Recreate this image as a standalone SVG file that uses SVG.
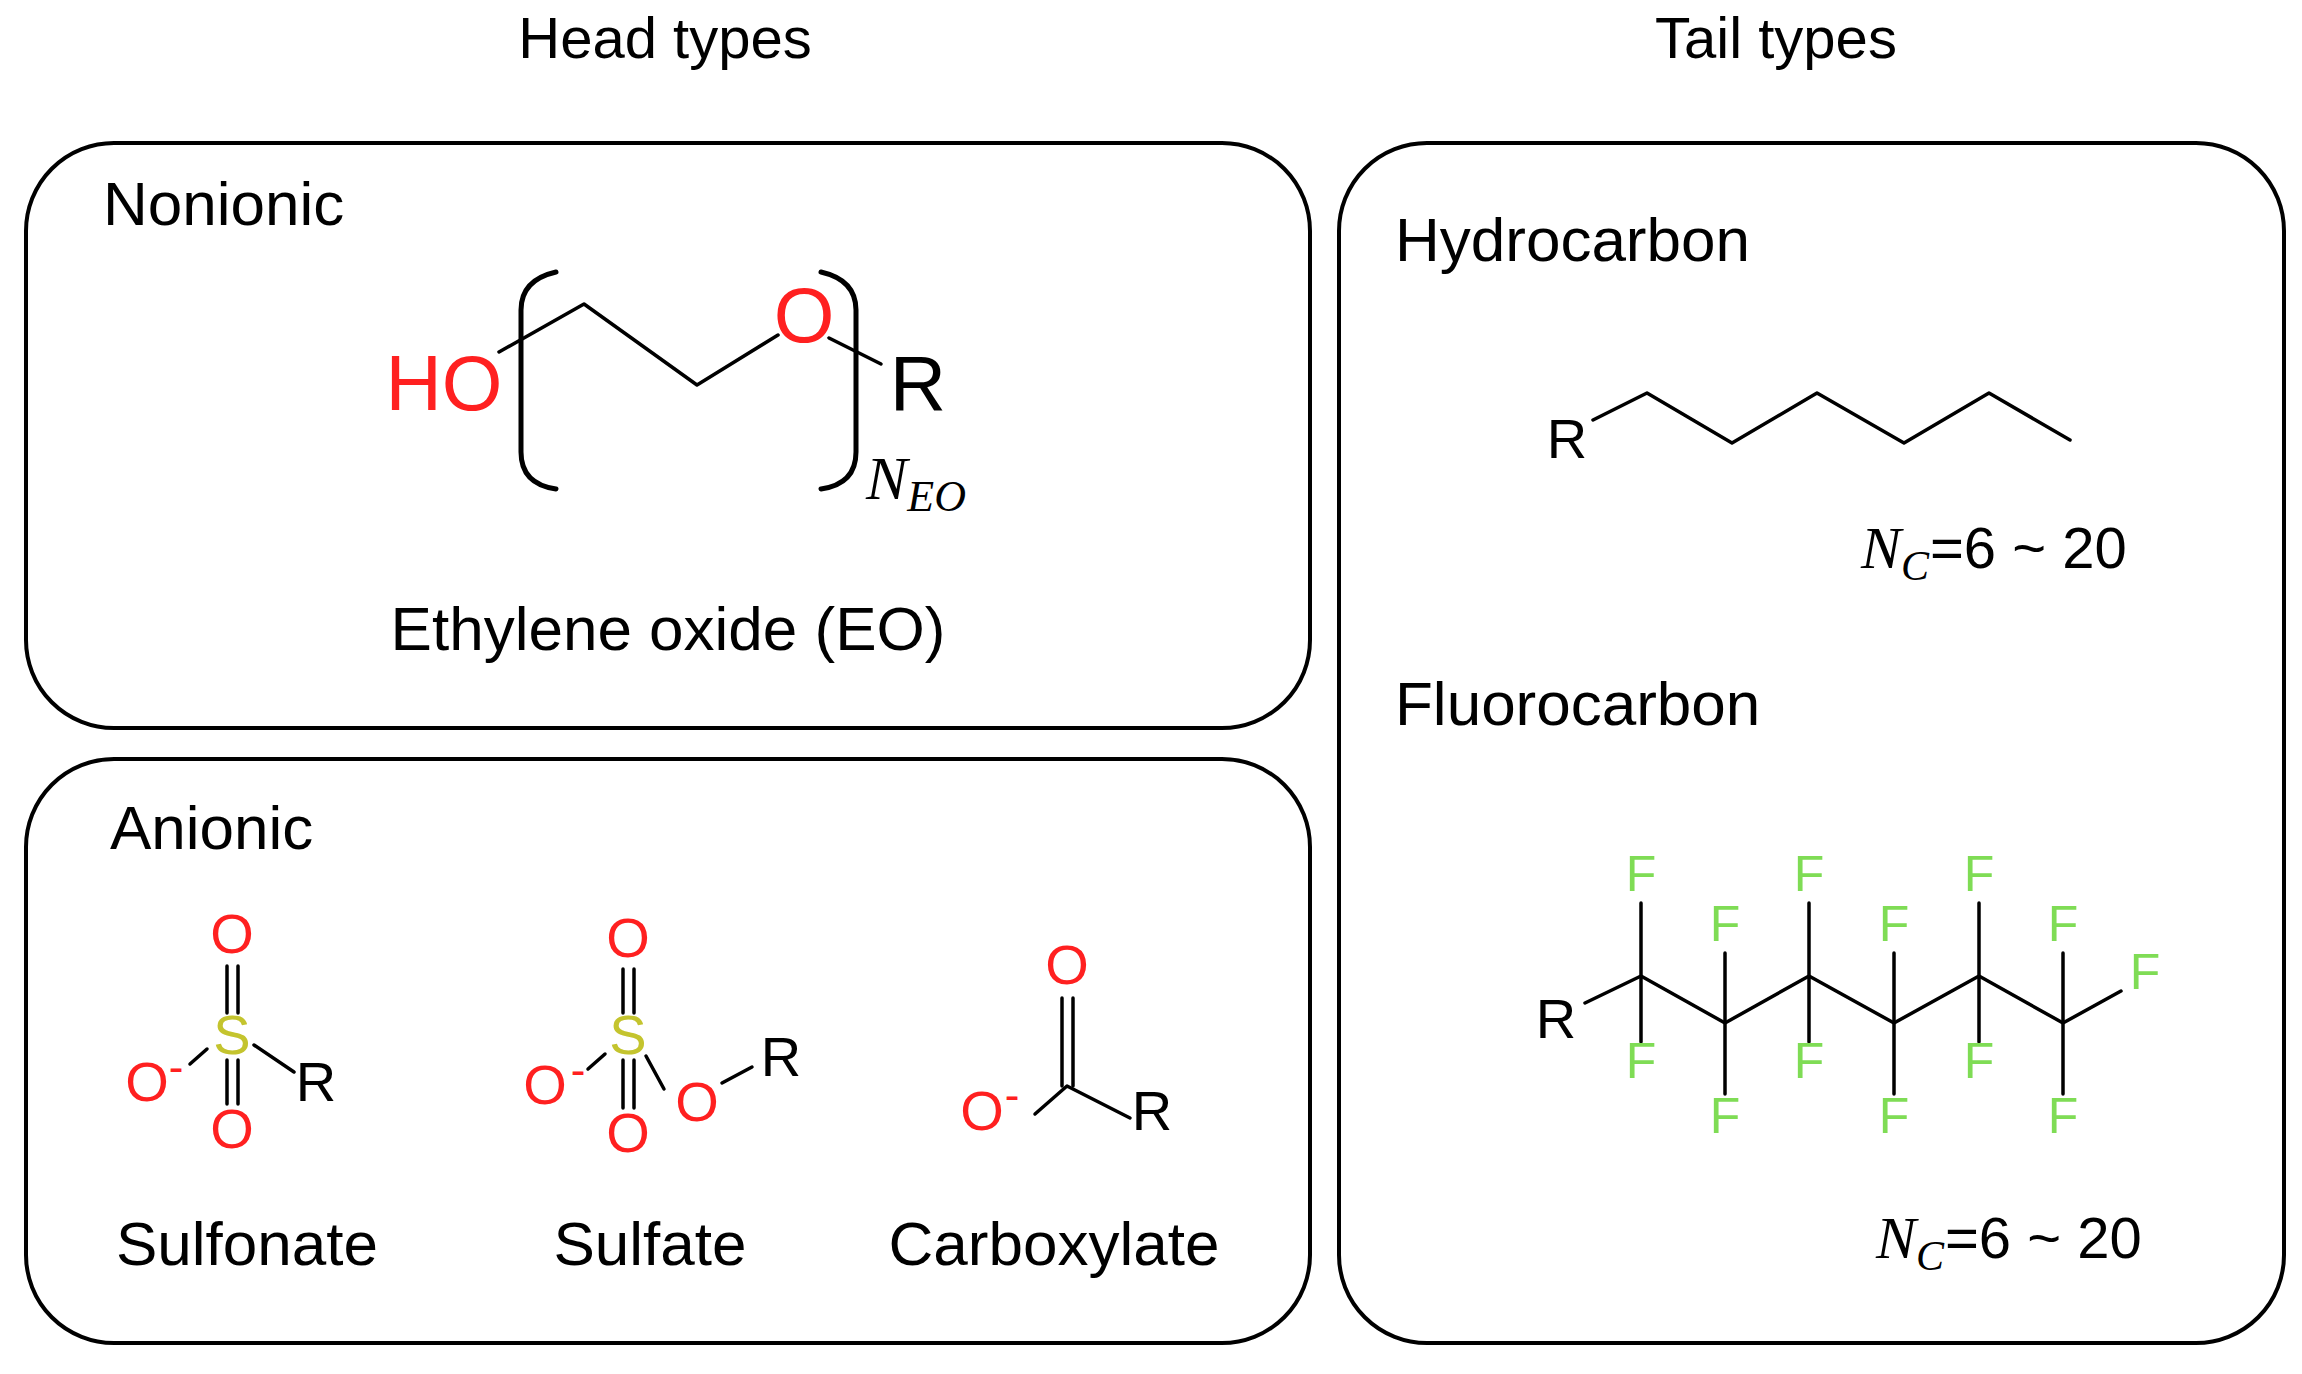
<svg xmlns="http://www.w3.org/2000/svg" width="2302" height="1374" viewBox="0 0 2302 1374">
<style>
.box{fill:none;stroke:#000;stroke-width:4}
.t{font-family:"Liberation Sans",Arial,sans-serif;fill:#000}
.h{font-size:58px}
.lbl{font-size:62px}
.b{stroke:#000;stroke-width:3.5;fill:none;stroke-linecap:round;stroke-linejoin:round}
.br{stroke:#000;stroke-width:5;fill:none;stroke-linecap:round}
.at{font-family:"Liberation Sans",Arial,sans-serif;font-size:56px;text-anchor:middle}
.big{font-size:78px}
.mn{font-size:44px}
.red{fill:#ff2020}
.s{fill:#c4c42e}
.f{fill:#7fdc55;font-size:50px}
.blk{fill:#000}
.m{font-family:"Liberation Serif","Times New Roman",serif;font-style:italic;fill:#000}
.n{font-family:"Liberation Sans",Arial,sans-serif;fill:#000}
</style>
<rect width="2302" height="1374" fill="#fff"/>
<g id="titles">
<text class="t h" x="665" y="58" text-anchor="middle">Head types</text>
<text class="t h" x="1776" y="58" text-anchor="middle">Tail types</text>
</g>
<g id="nonionic">
<rect class="box" x="26" y="143" width="1284" height="585" rx="88"/>
<text class="t lbl" x="103" y="225">Nonionic</text>
<text class="at big red" x="444" y="410">HO</text>
<polyline class="b" points="499,352 584,304 697,385 778,335"/>
<text class="at big red" x="804" y="342">O</text>
<line class="b" x1="829" y1="338" x2="881" y2="364"/>
<text class="at big blk" x="918" y="410">R</text>
<path class="br" d="M556,272 Q521,280 521,310 L521,452 Q521,484 556,489"/>
<path class="br" d="M821,272 Q856,280 856,310 L856,452 Q856,484 821,489"/>
<text class="m" x="866" y="499" font-size="62">N<tspan font-size="44" dy="12">EO</tspan></text>
<text class="t lbl" x="668" y="650" text-anchor="middle">Ethylene oxide (EO)</text>
</g>
<g id="anionic">
<rect class="box" x="26" y="759" width="1284" height="584" rx="88"/>
<text class="t lbl" x="110" y="849">Anionic</text>
<g id="sulfonate">
<text class="at red" x="232" y="953">O</text>
<line class="b" x1="227" y1="966" x2="227" y2="1013"/><line class="b" x1="238" y1="966" x2="238" y2="1013"/>
<text class="at s" x="232" y="1054">S</text>
<line class="b" x1="227" y1="1060" x2="227" y2="1104"/><line class="b" x1="238" y1="1060" x2="238" y2="1104"/>
<text class="at red" x="232" y="1148">O</text>
<text class="at red" x="147" y="1101">O</text>
<text class="at mn red" x="176" y="1082">-</text>
<line class="b" x1="190" y1="1064" x2="207" y2="1049"/>
<line class="b" x1="254" y1="1045" x2="294" y2="1072"/>
<text class="at blk" x="316" y="1101">R</text>
<text class="t lbl" x="247" y="1265" text-anchor="middle">Sulfonate</text>
</g>
<g id="sulfate">
<text class="at red" x="628" y="957">O</text>
<line class="b" x1="623" y1="969" x2="623" y2="1013"/><line class="b" x1="634" y1="969" x2="634" y2="1013"/>
<text class="at s" x="628" y="1054">S</text>
<line class="b" x1="623" y1="1060" x2="623" y2="1108"/><line class="b" x1="634" y1="1060" x2="634" y2="1108"/>
<text class="at red" x="628" y="1152">O</text>
<text class="at red" x="545" y="1104">O</text>
<text class="at mn red" x="578" y="1085">-</text>
<line class="b" x1="588" y1="1069" x2="605" y2="1054"/>
<line class="b" x1="646" y1="1056" x2="664" y2="1089"/>
<text class="at red" x="697" y="1121">O</text>
<line class="b" x1="722" y1="1083" x2="752" y2="1067"/>
<text class="at blk" x="781" y="1076">R</text>
<text class="t lbl" x="650" y="1265" text-anchor="middle">Sulfate</text>
</g>
<g id="carboxylate">
<text class="at red" x="1067" y="984">O</text>
<line class="b" x1="1062" y1="998" x2="1062" y2="1086"/><line class="b" x1="1073" y1="998" x2="1073" y2="1086"/>
<polyline class="b" points="1035,1114 1067,1086 1130,1118"/>
<text class="at red" x="982" y="1130">O</text>
<text class="at mn red" x="1012" y="1110">-</text>
<text class="at blk" x="1152" y="1130">R</text>
<text class="t lbl" x="1054" y="1265" text-anchor="middle">Carboxylate</text>
</g>
</g>
<g id="tails">
<rect class="box" x="1339" y="143" width="945" height="1200" rx="88"/>
<g id="hydrocarbon">
<text class="t lbl" x="1395" y="261">Hydrocarbon</text>
<text class="at blk" x="1567" y="458">R</text>
<polyline class="b" points="1593,420 1647,393 1732,443 1817,393 1904,443 1989,393 2070,440"/>
<text class="m" x="1861" y="568" font-size="60">N<tspan font-size="42" dy="12">C</tspan></text>
<text class="n" x="1930" y="568" font-size="58">=6 ~ 20</text>
</g>
<g id="fluorocarbon">
<text class="t lbl" x="1395" y="725">Fluorocarbon</text>
<text class="at blk" x="1556" y="1038">R</text>
<polyline class="b" points="1585,1003 1641,976 1725,1023 1809,976 1894,1023 1979,976 2063,1023 2121,991"/>
<line class="b" x1="1641" y1="903" x2="1641" y2="1042"/>
<line class="b" x1="1809" y1="903" x2="1809" y2="1042"/>
<line class="b" x1="1979" y1="903" x2="1979" y2="1042"/>
<line class="b" x1="1725" y1="953" x2="1725" y2="1094"/>
<line class="b" x1="1894" y1="953" x2="1894" y2="1094"/>
<line class="b" x1="2063" y1="953" x2="2063" y2="1094"/>
<g class="at f">
<text x="1641" y="891">F</text><text x="1809" y="891">F</text><text x="1979" y="891">F</text>
<text x="1641" y="1078">F</text><text x="1809" y="1078">F</text><text x="1979" y="1078">F</text>
<text x="1725" y="941">F</text><text x="1894" y="941">F</text><text x="2063" y="941">F</text>
<text x="1725" y="1133">F</text><text x="1894" y="1133">F</text><text x="2063" y="1133">F</text>
<text x="2145" y="989">F</text>
</g>
<text class="m" x="1876" y="1258" font-size="60">N<tspan font-size="42" dy="12">C</tspan></text>
<text class="n" x="1945" y="1258" font-size="58">=6 ~ 20</text>
</g>
</g>
</svg>
